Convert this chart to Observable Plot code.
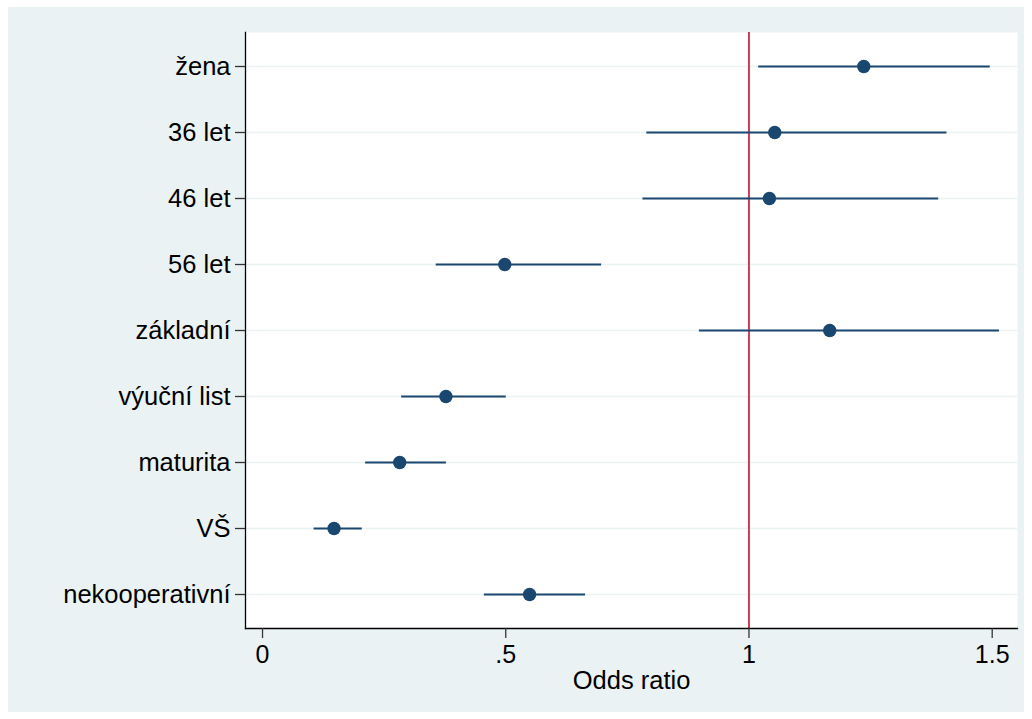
<!DOCTYPE html>
<html>
<head>
<meta charset="utf-8">
<script src="https://cdn.jsdelivr.net/npm/d3@7"></script>
<script src="https://cdn.jsdelivr.net/npm/@observablehq/plot@0.6"></script>
<style>
  body { margin: 0; background: #ffffff; font-family: "Liberation Sans", Arial, Helvetica, sans-serif; }
  #bg { position: absolute; left: 8px; top: 7px; width: 1016px; height: 705px; background: #eaf2f3; }
  #chart { position: absolute; left: 0; top: 0; }
</style>
</head>
<body>
<div id="bg"></div>
<div id="chart"></div>
<script>
const categories = ["žena", "36 let", "46 let", "56 let", "základní", "výuční list", "maturita", "VŠ", "nekooperativní"];
const oddsRatio = [1.236, 1.053, 1.042, 0.498, 1.166, 0.377, 0.282, 0.147, 0.549];
const ciLow     = [1.020, 0.790, 0.782, 0.357, 0.898, 0.286, 0.212, 0.106, 0.456];
const ciHigh    = [1.496, 1.407, 1.390, 0.697, 1.515, 0.501, 0.378, 0.205, 0.664];
const xTicks = [0, 0.5, 1, 1.5];
const xTickLabels = ["0", ".5", "1", "1.5"];
const referenceValue = [1];

const data = categories.map((c, i) => ({ cat: c, or: oddsRatio[i], lo: ciLow[i], hi: ciHigh[i] }));

const navy = "#1a476f";
const chart = Plot.plot({
  width: 1032,
  height: 719,
  marginLeft: 245,
  marginTop: 32,
  marginRight: 15,
  marginBottom: 91,
  style: { background: "transparent", fontFamily: "'Liberation Sans', Arial, Helvetica, sans-serif", color: "#000" },
  x: { domain: [-0.035, 1.552] },
  y: { domain: categories, type: "point", padding: 0.5 },
  marks: [
    Plot.frame({ fill: "white", stroke: "none" }),
    Plot.gridY({ stroke: "#eaf2f3", strokeOpacity: 1, strokeWidth: 1.6 }),
    Plot.ruleX(referenceValue, { stroke: "#c8102e", strokeWidth: 1.6 }),
    Plot.ruleY(data, { y: "cat", x1: "lo", x2: "hi", stroke: navy, strokeWidth: 2 }),
    Plot.dot(data, { x: "or", y: "cat", r: 6.7, fill: navy, stroke: "none" }),
    Plot.frame({ anchor: "left", stroke: "#000", strokeWidth: 1.3 }),
    Plot.frame({ anchor: "bottom", stroke: "#000", strokeWidth: 1.3 }),
    Plot.axisY({ tickSize: 10, tickPadding: 5, fontSize: 25.5, stroke: "#333", strokeWidth: 1.3, fill: "#000", label: null }),
    Plot.axisX({ ticks: xTicks, tickFormat: (d) => xTickLabels[xTicks.indexOf(d)], tickSize: 10, tickPadding: 7, fontSize: 25, stroke: "#333", strokeWidth: 1.3, fill: "#000", label: null }),
    Plot.text(["Odds ratio"], { frameAnchor: "bottom", dy: 60, fontSize: 25.5, fill: "#000", text: d => d })
  ]
});
document.getElementById("chart").appendChild(chart);
</script>
</body>
</html>
